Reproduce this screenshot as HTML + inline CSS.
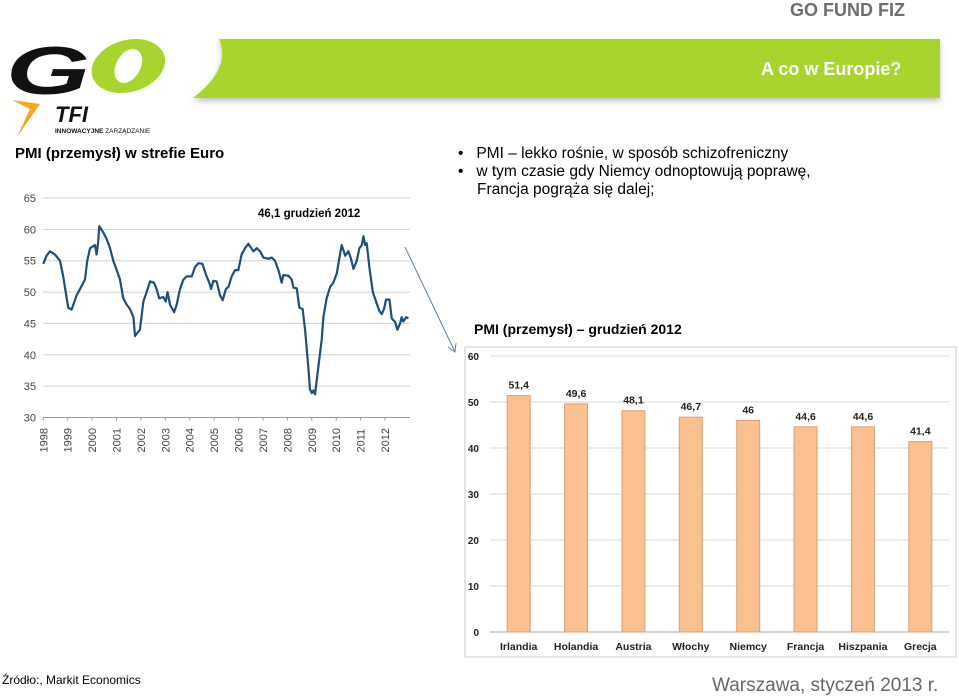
<!DOCTYPE html>
<html><head><meta charset="utf-8">
<style>
body{margin:0;width:959px;height:698px;background:#fff;position:relative;overflow:hidden;font-family:"Liberation Sans",sans-serif}
.abs{position:absolute}
</style></head>
<body>
<div class="abs" style="left:790px;top:0px;font-size:18px;font-weight:bold;color:#6d6d6d">GO FUND FIZ</div>
<svg class="abs" style="left:0;top:0" width="959" height="698">
  <defs><filter id="sh" x="-5%" y="-20%" width="110%" height="150%"><feDropShadow dx="0" dy="3" stdDeviation="3" flood-color="#000" flood-opacity="0.25"/></filter></defs>
  <path d="M219,39 L940,39 L940,98 L193,98 Q232,68 219,39 Z" fill="#a8d42f" filter="url(#sh)"/>
  <g>
    <text x="0" y="0" font-family="Liberation Sans" font-weight="bold" font-style="italic" font-size="80" fill="#111" transform="translate(6,94) scale(1.35,0.85)">G</text>
    <ellipse cx="128" cy="66" rx="36" ry="27" fill="#a8d42f" transform="skewX(-15) translate(18,0)"/>
    <ellipse cx="128" cy="66" rx="13" ry="17" fill="#fff" transform="skewX(-15) translate(18,0)"/>
    <path d="M12,100 L40,104 L17,137 L30,109 Z" fill="#f5a623"/>
    <text x="55" y="122" font-family="Liberation Sans" font-weight="bold" font-style="italic" font-size="22" fill="#111">TFI</text>
    <text x="55" y="133" font-family="Liberation Sans" font-size="6.5" fill="#111"><tspan font-weight="bold">INNOWACYJNE</tspan> ZARZĄDZANIE</text>
  </g>
  <line x1="405" y1="247" x2="455" y2="352" stroke="#5a7fa8" stroke-width="1"/>
  <path d="M448,347 L455,352 L456,343" fill="none" stroke="#5a7fa8" stroke-width="1"/>
</svg>
<div class="abs" style="left:761px;top:59px;font-size:18px;font-weight:bold;color:#fff">A co w Europie?</div>
<div class="abs" style="left:15px;top:145px;font-size:15px;font-weight:bold;color:#000">PMI (przemysł) w strefie Euro</div>
<div class="abs" style="left:458px;top:145px;font-size:15.5px;line-height:18px;color:#000">
  <div>•&nbsp;&nbsp;&nbsp;PMI – lekko rośnie, w sposób schizofreniczny</div>
  <div>•&nbsp;&nbsp;&nbsp;w tym czasie gdy Niemcy odnoptowują poprawę,</div>
  <div style="padding-left:19px">Francja pogrąża się dalej;</div>
</div>
<div class="abs" style="left:474px;top:321px;font-size:14px;font-weight:bold;color:#000">PMI (przemysł) – grudzień 2012</div>
<div class="abs" style="left:2px;top:673px;font-size:12px;color:#000">Źródło:, Markit Economics</div>
<div class="abs" style="left:712px;top:675px;font-size:19px;color:#666">Warszawa, styczeń 2013 r.</div>

<svg id="lc" class="abs" style="left:0;top:180px" width="430" height="280"></svg>
<svg id="bc" class="abs" style="left:440px;top:340px" width="519" height="322"></svg>

<script>
// line chart data: months since Jan 1998, PMI values
const lineMonths=[0,1.6,3.3,5.7,8.2,9.8,11.5,12.3,13.9,16.4,18.9,20.5,21.6,23,25.4,26.2,27,27.5,29.5,31.1,32.8,34.4,36.1,37.7,39.3,41,42.6,44.3,45.1,47.5,49.2,50.8,52.5,54.4,55.7,57,59,60.2,61.1,62.3,64.3,65.6,67.2,68.9,70.5,73,74.6,76.2,78.2,80.3,81.6,82.5,83.6,85.2,86.9,88.2,89.8,91,92.6,94.3,95.9,97.5,99.2,100.8,103.3,104.9,106.6,108.2,110.7,112.3,113.9,115.6,117.2,118,120.5,122.1,123,124.6,125.9,127.5,128.7,130.3,131.1,132,132.8,133.6,135.2,136.9,137.7,139.3,141,142.6,144.3,145.6,146.7,148.4,150,151.1,152.5,154.1,155.4,156.6,157.4,158.2,159,160.3,162,163.6,165.2,166.4,167.5,168.5,170.2,171.3,173,174.1,175.4,176.2,177,178.4,179.5];
const lineValues=[54.5,55.8,56.5,56,55,52.5,49,47.5,47.2,49.5,51,52,55,57,57.5,56,58,60.5,59.5,58.5,57,55,53.5,52,49,48,47.3,46,43,44,48.5,50,51.7,51.5,50.5,49,49.2,48.5,50,48,46.8,48,50.5,52,52.5,52.5,54,54.6,54.5,52.5,51.5,50.5,51.8,51.7,49.5,48.7,50.5,50.8,52.5,53.5,53.5,56,57,57.7,56.5,57,56.5,55.5,55.3,55.5,55,53.5,51.5,52.7,52.6,52,50.7,50.6,47.5,47.3,44,38,34.5,33.9,34.3,33.7,38,42.5,46,49,50.8,51.5,53,55.5,57.5,55.8,56.5,55.5,53.7,55,57,57.5,58.9,57.5,57.8,54,50,48.5,47,46.5,47.3,48.8,48.8,45.8,45.2,44,45,46,45.3,46,45.8];
const lineTicks=[30,35,40,45,50,55,60,65];
const yearLabels=["1998","1999","2000","2001","2002","2003","2004","2005","2006","2007","2008","2009","2010","2011","2012"];
// bar chart data
const barCategories=["Irlandia","Holandia","Austria","Włochy","Niemcy","Francja","Hiszpania","Grecja"];
const barValues=[51.4,49.6,48.1,46.7,46,44.6,44.6,41.4];
const barLabels=["51,4","49,6","48,1","46,7","46","44,6","44,6","41,4"];
const barTicks=[0,10,20,30,40,50,60];

const NS="http://www.w3.org/2000/svg";
function mk(p,t,a){const e=document.createElementNS(NS,t);for(const k in a)e.setAttribute(k,a[k]);p.appendChild(e);return e;}

// ---- line chart
const lc=document.getElementById('lc');
const lx=m=>43.3+m*2.034, ly=v=>18+(65-v)*(219.5/35);
lineTicks.forEach(t=>{
  const g=mk(lc,'line',{x1:43,x2:410,y1:ly(t),y2:ly(t),stroke:t===30?'#999':'#d0d0d0','stroke-width':1});
  
  
  const tx=mk(lc,'text',{x:36,y:ly(t)+4,'text-anchor':'end','font-size':11,fill:'#444','font-family':'Liberation Sans'});
  tx.textContent=t;
  
  
});
yearLabels.forEach((y,i)=>{
  const x=lx(i*12);
  mk(lc,'line',{x1:x,x2:x,y1:ly(30),y2:ly(30)+3,stroke:'#999'});
  const tx=mk(lc,'text',{transform:`translate(${x+4},${ly(30)+35}) rotate(-90)`,'font-size':11,fill:'#444','font-family':'Liberation Sans'});
  tx.textContent=y;
  
  
});
const pl=mk(lc,'polyline',{points:lineMonths.map((m,i)=>lx(m)+','+ly(lineValues[i])).join(' '),fill:'none',stroke:'#1f4e79','stroke-width':2.2,'stroke-linejoin':'round'});


const ann=mk(lc,'text',{x:258,y:37,'font-size':11.5,'font-weight':'bold',fill:'#000','font-family':'Liberation Sans'});
ann.textContent='46,1 grudzień 2012';



// ---- bar chart
const bc=document.getElementById('bc');
mk(bc,'rect',{x:25,y:7,width:491,height:310,fill:'#fff',stroke:'#c8c8c8'});
const by=v=>292-v*4.6, slot=(949-490)/barCategories.length, bx0=50;
barTicks.forEach(t=>{
  const g=mk(bc,'line',{x1:bx0,x2:509,y1:by(t),y2:by(t),stroke:t===0?'#aaa':'#d9d9d9'});
  
  
  const tx=mk(bc,'text',{x:39,y:by(t)+4,'text-anchor':'end','font-size':10,'font-weight':'bold',fill:'#222','font-family':'Liberation Sans'});
  tx.textContent=t;
  
  
});
barCategories.forEach((c,i)=>{
  const cx=bx0+slot*(i+0.5);
  const r=mk(bc,'rect',{x:cx-11.5,y:by(barValues[i]),width:23,height:by(0)-by(barValues[i]),fill:'#fac090',stroke:'#d8a07a','stroke-width':1});
  
  
  const v=mk(bc,'text',{x:cx,y:by(barValues[i])-7,'text-anchor':'middle','font-size':10.5,'font-weight':'bold',fill:'#222','font-family':'Liberation Sans'});
  v.textContent=barLabels[i];
  
  
  const l=mk(bc,'text',{x:cx,y:310,'text-anchor':'middle','font-size':10.5,'font-weight':'bold',fill:'#222','font-family':'Liberation Sans'});
  l.textContent=c;
  
  
});
</script>
</body></html>
